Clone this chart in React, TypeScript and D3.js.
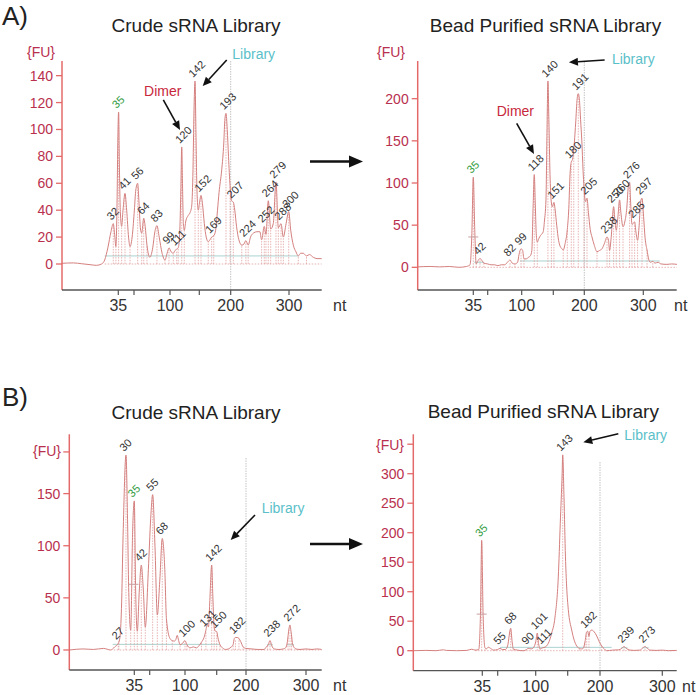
import React from "react";
import * as d3 from "d3";

type Pt = [number, number];
type Peak = [string, number, number];

const LADDER = [35, 50, 100, 150, 200, 300];
const LADDER_LABELS = [35, 100, 200, 300];

// ---------- A) Crude ----------
const traceA1: Pt[] = [
  [-19, 0.5], [-8, 0.8], [0, 0.2], [8, -0.5], [14, -1], [19, 0], [22, 3], [25, 12], [28, 24], [30.2, 30],
  [31.5, 22], [32.7, 13], [33.8, 45], [34.6, 95], [35.3, 113], [36, 75], [37, 38], [38.2, 28], [39.5, 40],
  [41.4, 52.5], [43, 40], [44.8, 20], [46.2, 13], [48.5, 22], [50.5, 40], [52.5, 55], [55.1, 60], [57, 45],
  [59, 26], [60.7, 23], [63.5, 34], [65.5, 28], [68, 14], [72, 5], [76, 12], [79, 24], [81.9, 28.5], [85, 20],
  [89, 8], [93, 3], [96, 8], [98.6, 12], [102, 9], [105.6, 8], [108.5, 10], [111.4, 11], [114, 12],
  [116.5, 22], [118.5, 55], [120, 87], [121.3, 60], [122.8, 30], [124.4, 25], [127, 32], [131, 36], [134, 38],
  [137, 43], [139, 65], [141, 115], [142.7, 136], [144.2, 100], [146, 55], [148.3, 40], [150.5, 46],
  [152.7, 51], [155, 45], [158, 30], [161, 20], [164.3, 16.6], [167, 18], [169.7, 20], [173, 21], [176, 25],
  [179, 40], [181.4, 53], [185.7, 70], [189, 90], [190.8, 108], [192.5, 112], [194.5, 100], [196.5, 80],
  [199, 58], [201.5, 47], [204.5, 46], [207, 40], [210, 28], [214, 18], [219, 14], [223, 15], [226, 17.4],
  [230, 14], [234, 20], [239, 23], [245, 24], [250, 24], [253, 18], [257.6, 28], [260.5, 22], [264.5, 47],
  [268.6, 26], [273, 30], [277.7, 61], [281.7, 27], [286.3, 30], [290.3, 20], [295, 30], [299.5, 39],
  [303, 25], [307.4, 14], [312, 9], [316, 6], [320, 8], [324.5, 8], [330, 6], [335, 7], [341.7, 5], [348, 4],
  [356, 4],
];
const peaksA1: Peak[] = [
  ["32", 30.2, 30], ["35", 35.3, 113], ["41", 41.4, 52.5], ["56", 55.1, 60], ["64", 63.5, 34],
  ["83", 81.9, 28.5], ["99", 98.6, 12], ["111", 111.4, 11], ["120", 120, 87], ["142", 142.7, 136],
  ["152", 152.7, 51], ["169", 169.7, 20], ["193", 192.5, 112], ["207", 204.5, 46], ["224", 226, 17.4],
  ["252", 257.6, 28], ["264", 264.5, 47], ["279", 277.7, 61], ["288", 286.3, 30], ["300", 299.5, 39],
];
const boundsA1 = [32.7, 38.2, 46.2, 60.7, 68, 93, 105.6, 114, 124.4, 148.3, 164.3, 173, 199, 219, 230,
  253, 260.5, 268.6, 281.7, 290.3, 316, 330];
const tealA1: [number, number, number][] = [[22, 316, 6]];

// ---------- A) Bead purified ----------
const traceA2: Pt[] = [
  [-23, 0.5], [-10, 1], [0, 0.5], [10, 1], [20, 0], [28, 1], [31.6, 3], [33.5, 40], [35, 107], [36.5, 45],
  [38, 4], [40, 8], [42, 10.5], [44, 8], [46, 5], [50, 4], [55, 3], [60, 3], [65, 2], [70, 3], [75, 3],
  [79, 6], [82.8, 8.7], [86, 5], [90, 4], [94, 6], [96, 15], [99, 22], [101.5, 20], [103.6, 10], [107, 10],
  [111, 12], [114, 14], [116, 20], [118, 70], [119.9, 110], [121.5, 75], [123, 40], [124.7, 30], [127, 34],
  [130, 38], [134, 42], [136, 55], [138.4, 80], [140, 160], [141.5, 221], [143, 175], [144.8, 110],
  [146.5, 80], [148.5, 72], [151, 77], [153, 68], [155.5, 50], [158.5, 32], [161, 25], [164, 22],
  [166, 20.5], [169, 28], [172.6, 45], [175, 70], [177, 110], [179, 125], [181, 128], [183, 140],
  [186, 170], [188.5, 200], [190.3, 206], [192, 200], [194, 175], [196, 150], [198, 115], [199.5, 95],
  [202, 78], [204.6, 82], [207, 65], [210, 45], [213, 36], [217, 26], [221.5, 18.5], [226, 20], [230, 22],
  [234, 28], [238.5, 36], [241, 32], [242.9, 20], [245.5, 35], [249.7, 72], [252, 55], [254.2, 44],
  [257, 60], [259.8, 80], [262, 65], [265.6, 48], [269, 55], [272, 70], [274.5, 95], [276.8, 101],
  [279, 70], [280.8, 51], [283, 52], [285.3, 54], [287.5, 42], [290.3, 32], [293, 50], [295.5, 78],
  [297.8, 82], [300.5, 60], [303, 35], [306.3, 20.5], [309, 10], [311.9, 6], [316, 7], [320, 5], [325, 6],
  [330, 4], [340, 3.5], [348, 4], [357, 3.5],
];
const peaksA2: Peak[] = [
  ["35", 35, 107], ["42", 42, 10.5], ["82", 82.8, 8.7], ["99", 99, 22], ["118", 119.9, 110],
  ["140", 141.5, 221], ["151", 151, 77], ["180", 179, 125], ["191", 190.3, 206], ["205", 204.6, 82],
  ["238", 238.5, 36], ["250", 249.7, 72], ["260", 259.8, 80], ["276", 276.8, 101], ["285", 285.3, 54],
  ["297", 297.8, 82],
];
const boundsA2 = [38, 46, 90, 103.6, 124.7, 147, 166, 172.6, 183, 199.5, 221.5, 242.9, 254.2, 265.6,
  280.8, 290.3, 306.3, 316];
const tealA2: [number, number, number][] = [[36, 46, 6], [97.5, 328, 7.5]];

// ---------- B) Crude ----------
const traceB1: Pt[] = [
  [-28, 0], [-15, 1], [-5, 0.5], [5, 1.5], [12, 0], [16, 3], [19.4, 6.4], [21, 12], [22.5, 40], [24.1, 110],
  [26.9, 187], [28.5, 120], [29.5, 60], [31.5, 19], [33.4, 115], [35, 143], [36.3, 57.5], [37.9, 18],
  [39.9, 57.5], [41.8, 81.5], [43.8, 57.5], [45.7, 22], [48.7, 77], [51.4, 126], [54.2, 149], [57.5, 99],
  [60.8, 33.5], [64.4, 68], [67.8, 107], [71.4, 77], [73.7, 30], [78.7, 11], [82, 9], [85, 8.5], [87, 10],
  [89, 14], [91, 9], [93, 5], [96, 6], [100, 9], [103, 5], [108, 2], [113, 3], [118, 2], [122, 4],
  [126, 7.5], [130, 12], [133, 19], [135, 25], [137, 22], [139, 45], [142.1, 81.5], [144, 50], [146, 22],
  [148, 18], [150, 17.6], [152, 12], [155.6, 5], [160, 2], [165, 0.5], [170, 1], [175, 3], [178, 5],
  [180, 11], [182, 12], [185, 12], [188, 11], [191, 8], [195, 3], [200, 1.5], [210, 1], [220, 0.5],
  [230, 0.5], [234, 3], [237, 5], [240, 9], [243, 4], [247, 1], [255, 0.5], [262, 1], [266, 2], [269, 8],
  [271.5, 20], [273.3, 24], [275, 18], [278, 5], [283, 1], [290, 0.5], [300, 1], [310, 0.5], [318, 1],
  [326, 0.5],
];
const peaksB1: Peak[] = [
  ["27", 19.4, 6.4], ["30", 26.9, 187], ["35", 35, 143], ["42", 41.8, 81.5], ["55", 54.2, 149],
  ["68", 67.8, 107], ["100", 100, 9], ["131", 133, 19], ["142", 142.1, 81.5], ["150", 150, 17.6],
  ["182", 182, 12], ["238", 240, 9], ["272", 273.3, 24],
];
const boundsB1 = [20, 31.5, 37.9, 45.7, 60.8, 73.7, 82, 93, 103, 126, 146, 155.6, 178, 188, 195, 236, 270, 276];
const tealB1: [number, number, number][] = [[14, 155.6, 5.4], [235, 245, 5], [268, 280, 5]];

// ---------- B) Bead purified ----------
const traceB2: Pt[] = [
  [-32, 0], [-20, 0.5], [-10, 0], [-3, 1.5], [0, 0.5], [10, 0], [20, 0.5], [24.7, 2.5], [28, 1], [31.5, 2],
  [33.2, 60], [34.4, 187], [35.8, 60], [37.6, 5], [39, 3], [40.8, 6], [43, 4], [46, 1], [50, 2], [53, 4],
  [56, 2], [60, 2], [63, 8], [67.1, 38], [69, 15], [70.5, 3], [76, 1], [83.7, 0], [88, 2], [90, 4],
  [94, 3], [97, 5], [100, 15], [102.5, 30], [104.5, 12], [106.7, 3], [109, 4], [111, 5], [114.5, 6],
  [119.7, 12.5], [124.9, 29.5], [130.2, 57], [135.3, 125], [138.4, 216], [141.3, 300], [142.2, 332],
  [144.2, 261], [146.5, 159], [148.4, 108], [150.9, 70], [156.2, 35], [160, 18], [163.9, 8], [168, 4],
  [171.6, 3], [174, 4], [176.8, 15], [179.4, 32], [181, 33], [182.9, 24], [184.5, 33], [187.2, 35],
  [191, 32], [194.9, 25], [199, 15], [202.7, 8], [207, 3], [210.7, 0], [220, 1], [230, 1.5], [235, 4],
  [238.5, 7], [242, 4], [248, 1], [255, 0.5], [264, 1], [268, 4], [272.2, 7], [276, 4], [280, 1],
  [290, 0.5], [300, 1], [310, 0], [323, 0.5],
];
const peaksB2: Peak[] = [
  ["35", 34.4, 187], ["55", 53, 4], ["68", 67.1, 38], ["90", 90, 4], ["101", 102.5, 30], ["111", 111, 5],
  ["143", 142.2, 332], ["182", 179.4, 32], ["239", 238.5, 7], ["273", 272.2, 7],
];
const boundsB2 = [37.6, 70.5, 106.7, 114.5, 168, 176.8, 182.9, 202.7];
const tealB2: [number, number, number][] = [[53, 218.7, 5.7], [234, 244, 5], [268, 278, 5]];

// ---------- layout ----------
const FONT = "'Liberation Sans', Arial, Helvetica, sans-serif";
const TRACE = "#d4807e";
const AXIS_RED = "#e46a6a";
const TICK_RED = "#b9304e";
const DOT_PINK = "#e2a0a0";
const TEAL = "#a9d2cf";

interface Ann { text: string; color: string; nt: number; fu: number; tail: Pt; tip: Pt; txt: Pt }
interface Cfg {
  title: string; titleX: number; titleY: number;
  left: number; right: number; top: number; bottom: number;
  ladderPx: number[]; yMin: number; yMax: number; yTicks: number[];
  fuX: number; fuY: number; fuTick: number | null; ntX: number; g200Top: number;
  trace: Pt[]; peaks: Peak[]; bounds: number[]; teal: [number, number, number][];
  baseRange: [number, number]; marker: Pt | null; anns: Ann[];
}

const panels: Cfg[] = [
  {
    title: "Crude sRNA Library", titleX: 196, titleY: 32,
    left: 62, right: 321.7, top: 61, bottom: 290,
    ladderPx: [118.3, 134, 170, 199.3, 230.7, 289], yMin: -19.33, yMax: 150.9,
    yTicks: [0, 20, 40, 60, 80, 100, 120, 140], fuX: 55, fuY: 57, fuTick: null, ntX: 333, g200Top: 61,
    trace: traceA1, peaks: peaksA1, bounds: boundsA1, teal: tealA1, baseRange: [22, 356], marker: null,
    anns: [
      { text: "Dimer", color: "#c8283c", nt: 120, fu: 87, tail: [-18.4, -47], tip: [-1.7, -17], txt: [-37.7, -51.3] },
      { text: "Library", color: "#5bbfc9", nt: 142.7, fu: 136, tail: [31.7, -21], tip: [7.7, 5], txt: [37.3, -22] },
    ],
  },
  {
    title: "Bead Purified sRNA Library", titleX: 545.5, titleY: 32,
    left: 417.7, right: 676.7, top: 61, bottom: 290,
    ladderPx: [473.3, 487.7, 521.7, 553.3, 584.3, 643.3], yMin: -26.9, yMax: 244.7,
    yTicks: [0, 50, 100, 150, 200], fuX: 405, fuY: 57, fuTick: null, ntX: 674, g200Top: 62,
    trace: traceA2, peaks: peaksA2, bounds: boundsA2, teal: tealA2, baseRange: [31, 357], marker: [35, 36],
    anns: [
      { text: "Dimer", color: "#c8283c", nt: 119.9, fu: 110, tail: [-17.6, -51.3], tip: [-0.3, -20.6], txt: [-37.6, -58.6] },
      { text: "Library", color: "#5bbfc9", nt: 141.5, fu: 221, tail: [56.7, -21], tip: [21, -18.7], txt: [64, -16.5] },
    ],
  },
  {
    title: "Crude sRNA Library", titleX: 196, titleY: 419,
    left: 69.3, right: 321.7, top: 434.3, bottom: 670,
    ladderPx: [134.3, 149.7, 185, 216.7, 246, 306], yMin: -19.2, yMax: 206.9,
    yTicks: [0, 50, 100, 150], fuX: 61, fuY: 456, fuTick: 190, ntX: 333, g200Top: 458,
    trace: traceB1, peaks: peaksB1, bounds: boundsB1, teal: tealB1, baseRange: [15, 326], marker: [34.2, 63],
    anns: [
      { text: "Library", color: "#5bbfc9", nt: 142.1, fu: 81.5, tail: [43.3, -50], tip: [19, -25], txt: [50, -51.7] },
    ],
  },
  {
    title: "Bead Purified sRNA Library", titleX: 543.3, titleY: 418,
    left: 413.3, right: 676.7, top: 434.3, bottom: 670.7,
    ladderPx: [482.3, 497.7, 535.7, 567.7, 600, 662.3], yMin: -33.9, yMax: 366.8,
    yTicks: [0, 50, 100, 150, 200, 250, 300], fuX: 404, fuY: 450, fuTick: 350, ntX: 682, g200Top: 462,
    trace: traceB2, peaks: peaksB2, bounds: boundsB2, teal: tealB2, baseRange: [28, 323], marker: [34.4, 62],
    anns: [
      { text: "Library", color: "#5bbfc9", nt: 142.2, fu: 332, tail: [55.6, -21], tip: [20.6, -12.7], txt: [61.6, -15] },
    ],
  },
];

function interp(trace: Pt[], nt: number): number {
  for (let i = 1; i < trace.length; i++) {
    if (trace[i][0] >= nt) {
      const [x0, y0] = trace[i - 1];
      const [x1, y1] = trace[i];
      return y0 + ((nt - x0) / (x1 - x0)) * (y1 - y0);
    }
  }
  return trace[trace.length - 1][1];
}

function Arrow({ x1, y1, x2, y2, w, head, hw }: { x1: number; y1: number; x2: number; y2: number; w: number; head: number; hw: number }) {
  const a = Math.atan2(y2 - y1, x2 - x1);
  const bx = x2 - head * Math.cos(a);
  const by = y2 - head * Math.sin(a);
  const px = -Math.sin(a) * hw / 2;
  const py = Math.cos(a) * hw / 2;
  return (
    <g>
      <line x1={x1} y1={y1} x2={bx} y2={by} stroke="#111" strokeWidth={w} />
      <polygon points={`${x2},${y2} ${bx + px},${by + py} ${bx - px},${by - py}`} fill="#111" />
    </g>
  );
}

function Panel({ c }: { c: Cfg }) {
  const x = d3.scaleLinear().domain(LADDER).range(c.ladderPx);
  const y = d3.scaleLinear().domain([c.yMin, c.yMax]).range([c.bottom, c.top]);
  const line = d3.line<Pt>().x((d) => x(d[0])).y((d) => y(d[1])).curve(d3.curveMonotoneX);
  const x200 = x(200);
  return (
    <g fontFamily={FONT}>
      <text x={c.titleX} y={c.titleY} fontSize={19} textAnchor="middle" fill="#222">{c.title}</text>
      {/* 200 nt guide */}
      <line x1={x200} x2={x200} y1={c.g200Top} y2={c.bottom} stroke="#c4c4c4" strokeWidth={1} strokeDasharray="1.5,1" />
      {/* baseline dotted */}
      <line x1={x(c.baseRange[0])} x2={x(c.baseRange[1])} y1={y(0)} y2={y(0)} stroke={DOT_PINK} strokeWidth={0.8} strokeDasharray="1.5,1.5" />
      {c.teal.map((t, i) => (
        <line key={i} x1={x(t[0])} x2={x(t[1])} y1={y(t[2])} y2={y(t[2])} stroke={TEAL} strokeWidth={1} />
      ))}
      {c.bounds.map((b, i) => (
        <line key={i} x1={x(b)} x2={x(b)} y1={y(0)} y2={y(interp(c.trace, b))} stroke={DOT_PINK} strokeWidth={0.8} strokeDasharray="1.5,1.2" />
      ))}
      {c.peaks.map((p, i) => (
        <line key={"pl" + i} x1={x(p[1])} x2={x(p[1])} y1={y(0)} y2={y(p[2]) + 2} stroke={DOT_PINK} strokeWidth={0.8} strokeDasharray="1.5,1.2" />
      ))}
      <path d={line(c.trace) || ""} fill="none" stroke={TRACE} strokeWidth={1} />
      {c.marker && (
        <line x1={x(c.marker[0]) - 5} x2={x(c.marker[0]) + 5} y1={y(c.marker[1])} y2={y(c.marker[1])} stroke="#c9a0a0" strokeWidth={1} />
      )}
      {/* axes */}
      <line x1={c.left} x2={c.left} y1={c.top} y2={c.bottom} stroke={AXIS_RED} strokeWidth={1.5} />
      <line x1={c.left} x2={c.right} y1={c.bottom} y2={c.bottom} stroke="#555" strokeWidth={1.3} />
      {c.yTicks.map((t) => (
        <g key={t}>
          <line x1={c.left - 6} x2={c.left} y1={y(t)} y2={y(t)} stroke={AXIS_RED} strokeWidth={1.3} />
          <text x={c.left - 9} y={y(t) + 5} fontSize={14} textAnchor="end" fill={TICK_RED}>{t}</text>
        </g>
      ))}
      {c.fuTick !== null && (
        <line x1={c.left - 6} x2={c.left} y1={y(c.fuTick)} y2={y(c.fuTick)} stroke={AXIS_RED} strokeWidth={1.3} />
      )}
      <text x={c.fuX} y={c.fuY} fontSize={14} textAnchor="end" fill={TICK_RED}>{"{FU}"}</text>
      {LADDER.map((t) => (
        <line key={t} x1={x(t)} x2={x(t)} y1={c.bottom} y2={c.bottom + 5} stroke="#555" strokeWidth={1.2} />
      ))}
      {LADDER_LABELS.map((t) => (
        <text key={t} x={x(t)} y={c.bottom + 21} fontSize={16} textAnchor="middle" fill="#333">{t}</text>
      ))}
      <text x={c.ntX} y={c.bottom + 21} fontSize={16} fill="#333">nt</text>
      {/* peak labels */}
      {c.peaks.map((p, i) => (
        <text key={"t" + i} transform={`translate(${x(p[1]) - 2},${y(p[2]) - 3}) rotate(-45)`} fontSize={11}
          fill={p[0] === "35" ? "#2f9a3c" : "#333"}>{p[0]}</text>
      ))}
      {c.anns.map((a, i) => {
        const px = x(a.nt), py = y(a.fu);
        return (
          <g key={"a" + i}>
            <text x={px + a.txt[0]} y={py + a.txt[1]} fontSize={14} fill={a.color}>{a.text}</text>
            <Arrow x1={px + a.tail[0]} y1={py + a.tail[1]} x2={px + a.tip[0]} y2={py + a.tip[1]} w={1.6} head={9} hw={8} />
          </g>
        );
      })}
    </g>
  );
}

export default function App() {
  return (
    <svg width={697} height={695} style={{ position: "absolute", left: 0, top: 0, background: "#fff" }}>
      <rect width={697} height={695} fill="#fff" />
      <text x={2} y={25} fontSize={26} fontFamily={FONT} fill="#222">A)</text>
      <text x={2} y={406} fontSize={26} fontFamily={FONT} fill="#222">B)</text>
      {panels.map((c, i) => <Panel key={i} c={c} />)}
      <Arrow x1={310} y1={161.5} x2={363} y2={161.5} w={2.6} head={14} hw={12} />
      <Arrow x1={310} y1={544} x2={363} y2={544} w={2.6} head={14} hw={12} />
    </svg>
  );
}
